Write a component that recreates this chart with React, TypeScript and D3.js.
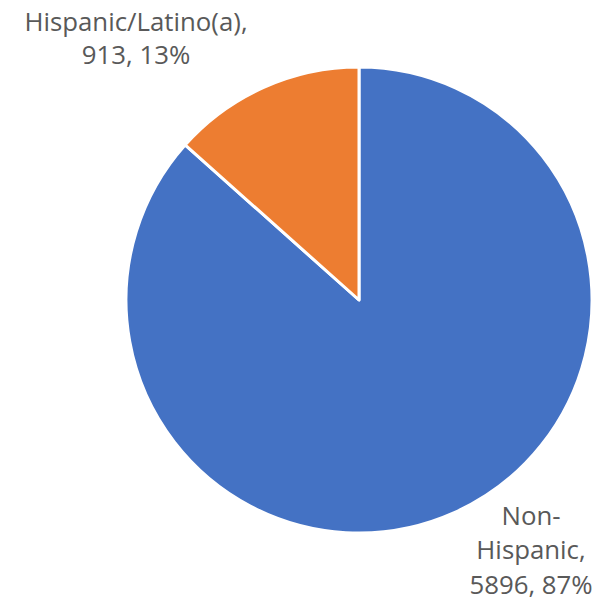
import React from "react";
import * as d3 from "d3";

const categories = ["Non-Hispanic", "Hispanic/Latino(a)"];
const values = [5896, 913];
const percents = ["87%", "13%"];
const colors = ["#4472C4", "#ED7D31"];

export default function App() {
  const W = 614, H = 606;
  const cx = 359, cy = 300, r = 233;
  const pie = d3.pie<number>().sort(null).value((d) => d)(values);
  const arc = d3.arc<d3.PieArcDatum<number>>().innerRadius(0).outerRadius(r);
  const font = "'Open Sans', 'Noto Sans', sans-serif";
  const fs = 25.8;
  return (
    <svg width={W} height={H} style={{ position: "absolute", left: 0, top: 0 }}>
      <rect width={W} height={H} fill="#fff" />
      <g transform={`translate(${cx},${cy})`}>
        {pie.map((p, i) => (
          <path key={i} d={arc(p) || ""} fill={colors[i]} stroke="#fff" strokeWidth={3} strokeLinejoin="round" />
        ))}
      </g>
      <g fontFamily={font} fontSize={fs} fill="#595959" textAnchor="middle">
        <text x={136} y={31}>{categories[1] + ","}</text>
        <text x={136} y={64}>{`${values[1]}, ${percents[1]}`}</text>
        <text x={531} y={525}>Non-</text>
        <text x={531} y={559}>Hispanic,</text>
        <text x={531} y={594}>{`${values[0]}, ${percents[0]}`}</text>
      </g>
    </svg>
  );
}
